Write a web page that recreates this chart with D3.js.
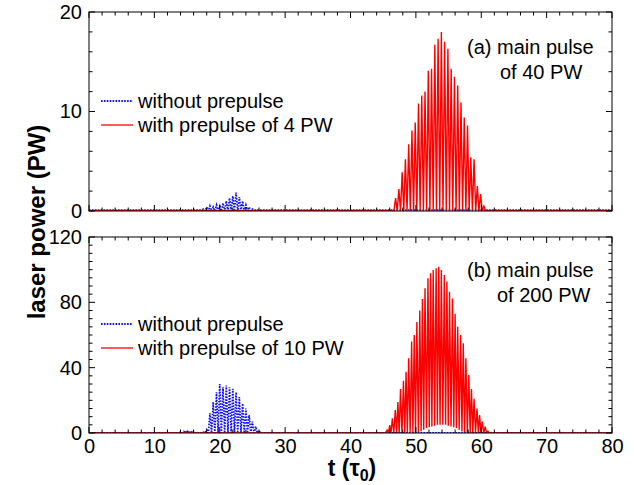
<!DOCTYPE html>
<html><head><meta charset="utf-8">
<script src="https://cdn.jsdelivr.net/npm/d3@7"></script>
<style>body{margin:0;background:#fff}svg{display:block}text{font-family:"Liberation Sans",Arial,sans-serif}</style>
</head><body><svg id="c" width="634" height="485"></svg>
<script>
// ---------- data ----------
const xTicks = [0,10,20,30,40,50,60,70,80];
const topYTicks = [0,10,20];
const botYTicks = [0,40,80,120];
const legendLabelsTop = ["without prepulse","with prepulse of 4 PW"];
const legendLabelsBot = ["without prepulse","with prepulse of 10 PW"];
const notesTop = ["(a) main pulse","of 40 PW"];
const notesBot = ["(b) main pulse","of 200 PW"];

// top panel, without prepulse (blue): oscillation peaks
const blueTopT = [17.5,18,18.5,19,19.5,20,20.5,21,21.5,22,22.5,23,23.5,24,24.5,25];
const blueTopP = [0.2,0.4,0.5,0.4,0.6,0.5,0.8,1.0,1.3,1.5,1.85,1.4,1.0,0.6,0.4,0.2];
// top panel, with prepulse of 4 PW (red): oscillation peaks
const redTopT = [46.9,47.4,47.9,48.4,48.9,49.4,49.9,50.4,50.9,51.4,51.9,52.4,52.9,53.4,53.9,54.4,54.9,55.4,55.9,56.4,56.9,57.4,57.9,58.4,58.9,59.4,59.9,60.4];
const redTopP = [1.3,2.2,3.9,5.2,6.7,8.1,8.9,10.8,11.6,12.0,14.1,14.3,16.7,17.3,18.0,17.0,16.3,14.3,13.5,12.6,10.9,9.4,8.6,5.4,5.2,2.5,1.7,0.5];
// bottom panel, without prepulse (blue)
const blueBotT = [14,14.5,15,15.5,16,16.5,17,17.5,18,18.5,19,19.5,20,20.5,21,21.5,22,22.5,23,23.5,24,24.5,25,25.5,26];
const blueBotP = [0.5,1.0,1.6,1.2,0.8,0.4,0.3,0.5,2,12,19,25,30,28,29,28,27,25,22,18,15,11,7,4,1.5];
// bottom panel, with prepulse of 10 PW (red)
const redBotT = [45.6,46.0,46.4,46.85,47.25,47.65,48.1,48.5,48.9,49.35,49.75,50.15,50.6,51.0,51.4,51.85,52.25,52.65,53.1,53.5,53.9,54.35,54.75,55.15,55.6,56.0,56.4,56.85,57.25,57.65,58.1,58.5,58.9,59.35,59.75,60.15,60.6,61.0];
const redBotP = [1.8,4.9,9,14,19,27,32,37.5,45.7,56,60,68,75,82,88.6,94.7,97.8,99.8,100.8,101.8,99.8,96.7,92.7,86.5,82.4,73,65,60,55,45.7,35.5,27,21,15,11,7,3.9,1.2];
const redBotTrough = [0,0,0,0,0,0,0,0,0,0,0,0.5,1,2,3,3.5,4,4.5,5,5,5,5,4.5,4,3.5,3,2,1,0.5,0,0,0,0,0,0,0,0];
const baseBlue = 0.1, baseRed = 0.05;

// ---------- drawing ----------
const svg = d3.select("#c");
const X0 = 89, X1 = 612;
const FONT = "'Liberation Sans',Arial,sans-serif";
const x = d3.scaleLinear().domain([0,80]).range([X0,X1]);

function series(T, P, troughs, base){
  const pts = [[0,base],[T[0]-0.25,base]];
  for(let i=0;i<T.length;i++){
    pts.push([T[i],P[i]]);
    if(i<T.length-1){
      const tr = troughs ? troughs[i] : 0;
      pts.push([(T[i]+T[i+1])/2, tr]);
    }
  }
  pts.push([T[T.length-1]+0.25,base],[80,base]);
  return pts;
}

function panel(opt){
  const y = d3.scaleLinear().domain([0,opt.ymax]).range([opt.y1,opt.y0]);
  const g = svg.append("g");
  const id = "clip"+opt.id;
  svg.append("clipPath").attr("id",id).append("rect")
    .attr("x",X0).attr("y",opt.y0).attr("width",X1-X0).attr("height",opt.y1-opt.y0);
  const line = d3.line().x(d=>x(d[0])).y(d=>y(d[1]));
  const dg = g.append("g").attr("clip-path",`url(#${id})`);
  dg.append("path").datum(series(opt.blueT,opt.blueP,null,baseBlue))
    .attr("d",line).attr("fill","none").attr("stroke","#1010ff").attr("stroke-width",1.7)
    .attr("stroke-dasharray","1.6,1.3");
  dg.append("path").datum(series(opt.redT,opt.redP,opt.redTr,baseRed))
    .attr("d",line).attr("fill","none").attr("stroke","#ff0000").attr("stroke-width",1.4);

  // axes with inward ticks
  const ax = g.append("g").attr("stroke","#000").attr("stroke-width",1);
  d3.range(0,81,2).forEach(v=>{
    const L = (v%10===0)?6:3.5;
    ax.append("line").attr("x1",x(v)).attr("x2",x(v)).attr("y1",opt.y1).attr("y2",opt.y1-L);
    ax.append("line").attr("x1",x(v)).attr("x2",x(v)).attr("y1",opt.y0).attr("y2",opt.y0+L);
  });
  d3.range(0,opt.ymax+0.001,opt.minor).forEach(v=>{
    const L = (Math.abs(v/opt.major-Math.round(v/opt.major))<1e-6)?6:3.5;
    ax.append("line").attr("x1",X0).attr("x2",X0+L).attr("y1",y(v)).attr("y2",y(v));
    ax.append("line").attr("x1",X1).attr("x2",X1-L).attr("y1",y(v)).attr("y2",y(v));
  });
  g.append("rect").attr("x",X0).attr("y",opt.y0).attr("width",X1-X0).attr("height",opt.y1-opt.y0)
    .attr("fill","none").attr("stroke","#000").attr("stroke-width",1);

  const yAxis = d3.axisLeft(y).tickValues(opt.yTicks).tickSize(0).tickPadding(7).tickFormat(d3.format("d"));
  const ya = g.append("g").attr("transform",`translate(${X0},0)`).call(yAxis);
  ya.select(".domain").remove();
  ya.selectAll("text").attr("font-size",20).attr("fill","#000").attr("font-family",FONT);

  // legend
  const lg = g.append("g");
  lg.append("line").attr("x1",101).attr("x2",133).attr("y1",opt.legY).attr("y2",opt.legY)
    .attr("stroke","#1010ff").attr("stroke-width",1.8).attr("stroke-dasharray","1.6,1.3");
  lg.append("line").attr("x1",101).attr("x2",133).attr("y1",opt.legY+24).attr("y2",opt.legY+24)
    .attr("stroke","#ff0000").attr("stroke-width",1.3);
  opt.legend.forEach((t,i)=>{
    lg.append("text").attr("x",138).attr("y",opt.legY+24*i+7).attr("font-size",20).text(t);
  });
  opt.notes.forEach((t,i)=>{
    g.append("text").attr("x",opt.noteX[i]).attr("y",opt.noteY+25*i)
      .attr("font-size",20).text(t);
  });
  return y;
}

panel({id:"a",y0:12,y1:211,ymax:20,major:10,minor:2,yTicks:topYTicks,
  blueT:blueTopT,blueP:blueTopP,redT:redTopT,redP:redTopP,redTr:null,
  legY:101,legend:legendLabelsTop,noteY:54,noteX:[467,500],notes:notesTop});
panel({id:"b",y0:237,y1:433,ymax:120,major:40,minor:5,yTicks:botYTicks,
  blueT:blueBotT,blueP:blueBotP,redT:redBotT,redP:redBotP,redTr:redBotTrough,
  legY:324,legend:legendLabelsBot,noteY:277,noteX:[467,497],notes:notesBot});

// x axis labels
const xa = svg.append("g").attr("transform","translate(0,433)")
  .call(d3.axisBottom(x).tickValues(xTicks).tickSize(0).tickPadding(6).tickFormat(d3.format("d")));
xa.select(".domain").remove();
xa.selectAll("text").attr("font-size",20).attr("fill","#000").attr("font-family",FONT);

// axis titles
const xt = svg.append("text").attr("x",352).attr("y",476).attr("text-anchor","middle")
  .attr("font-size",23).attr("font-weight","bold");
xt.append("tspan").text("t (");
xt.append("tspan").text("τ");
xt.append("tspan").attr("font-size",16).attr("dy",5).text("0");
xt.append("tspan").attr("dy",-5).text(")");
svg.append("text").attr("transform","translate(45,222) rotate(-90)").attr("text-anchor","middle")
  .attr("font-size",24).attr("font-weight","bold").text("laser power (PW)");
</script></body></html>
